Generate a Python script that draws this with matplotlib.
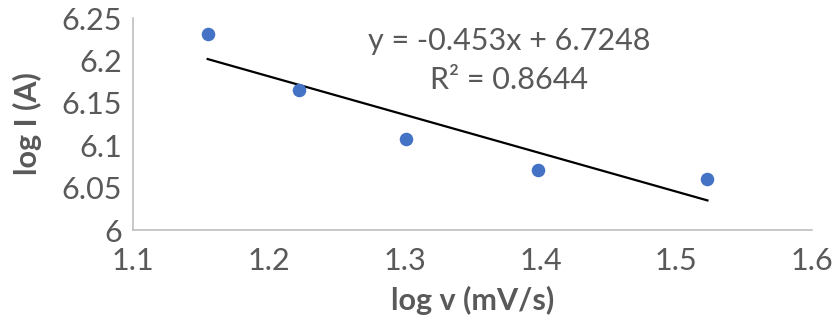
import numpy as np
import matplotlib.pyplot as plt

# data
log_v = [1.155, 1.222, 1.301, 1.398, 1.523]
log_i = [6.231, 6.165, 6.107, 6.071, 6.060]

# Excel trendline as printed on the chart
slope = -0.453
intercept = 6.7248
r2 = 0.8644

x_ticks = [1.1, 1.2, 1.3, 1.4, 1.5, 1.6]
y_ticks = [6, 6.05, 6.1, 6.15, 6.2, 6.25]

plt.rcParams['font.family'] = ['Lato', 'DejaVu Sans']
grey = '#595959'

fig = plt.figure(figsize=(8.34, 3.34), dpi=100)
ax = fig.add_axes([133/834, 1 - 230/334, (812 - 133)/834, (230 - 18)/334])

ax.scatter(log_v, log_i, s=95, color='#4472C4', zorder=3, linewidths=0)

xfit = np.array([min(log_v), max(log_v)])
ax.plot(xfit, slope * xfit + intercept, color='black', lw=1.6, zorder=2)

ax.set_xlim(1.1, 1.6)
ax.set_ylim(6, 6.25)
ax.set_xticks(x_ticks)
ax.set_xticklabels(['%g' % t for t in x_ticks])
ax.set_yticks(y_ticks)
ax.set_yticklabels(['%g' % t for t in y_ticks])
ax.tick_params(length=0, labelsize=22, labelcolor=grey, pad=8)
ax.tick_params(axis='x', pad=12)

for s in ['top', 'right']:
    ax.spines[s].set_visible(False)
for s in ['left', 'bottom']:
    ax.spines[s].set_color('#bfbfbf')
    ax.spines[s].set_linewidth(1.2)

ax.set_xlabel('log v (mV/s)', fontsize=22, fontweight='bold', color=grey, labelpad=8)
ax.set_ylabel('log I (A)', fontsize=22, fontweight='bold', color=grey, labelpad=14)

ax.text(1.377, 6.239, 'y = %gx + %g\nR² = %g' % (slope, intercept, r2),
        fontsize=22, color=grey, ha='center', va='top', linespacing=1.45)

fig.savefig('out.png', dpi=100)
